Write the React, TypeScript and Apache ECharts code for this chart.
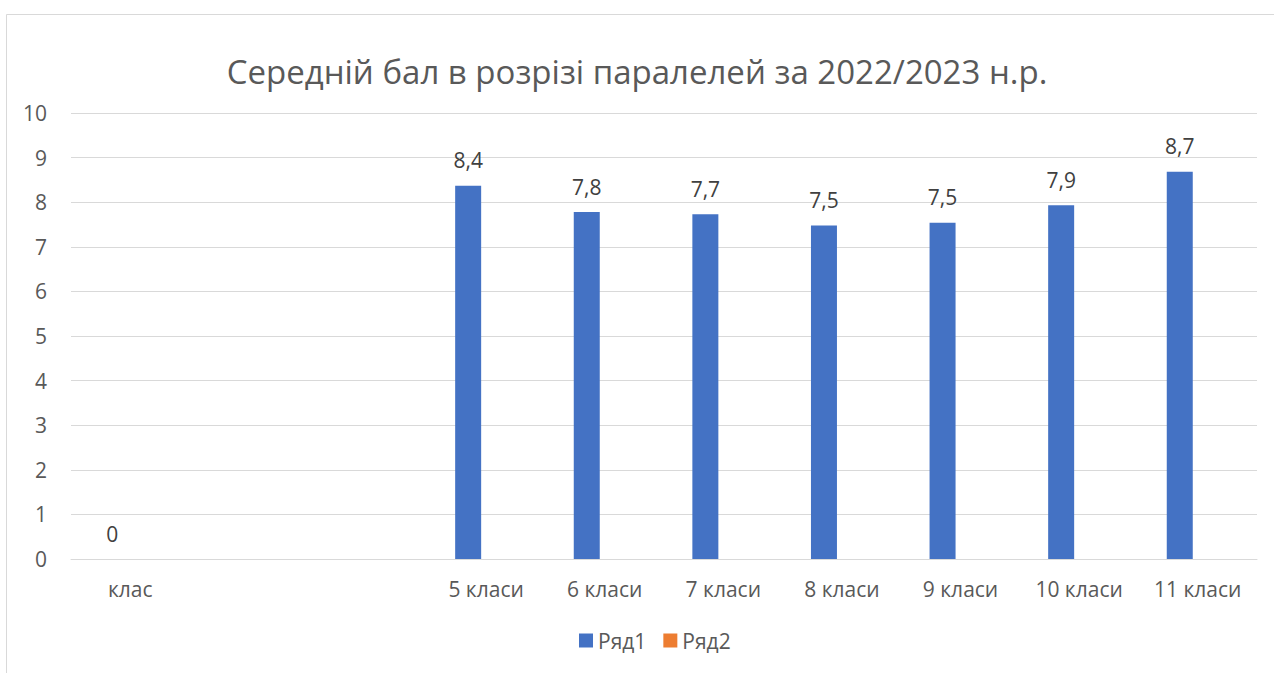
import React, { useEffect, useRef } from "react";
import * as echarts from "echarts";

const titleText = "Середній бал в розрізі паралелей за 2022/2023 н.р.";
const categories = ["клас", "", "", "5 класи", "6 класи", "7 класи", "8 класи", "9 класи", "10 класи", "11 класи"];
const series1Name = "Ряд1";
const series2Name = "Ряд2";
const series1Values: (number | null)[] = [0, null, null, 8.37, 7.78, 7.73, 7.48, 7.54, 7.93, 8.68];
const series2Values: (number | null)[] = [null, null, null, null, null, null, null, null, null, null];
const yTicks = { min: 0, max: 10, interval: 1 };

const FONT = "'Open Sans', 'Noto Sans', sans-serif";

function fmt(v: number): string {
  if (v === 0) return "0";
  return v.toFixed(1).replace(".", ",");
}

export default function App() {
  const ref = useRef<HTMLDivElement>(null);
  useEffect(() => {
    if (!ref.current) return;
    const chart = echarts.init(ref.current, null, { renderer: "svg" });
    chart.setOption({
      animation: false,
      backgroundColor: "#ffffff",
      title: {
        text: titleText,
        left: "center",
        top: 50,
        textStyle: { fontFamily: FONT, fontSize: 33, fontWeight: "normal", color: "#595959" },
      },
      graphic: [
        {
          type: "rect",
          shape: { x: 6.5, y: 14.5, width: 1300, height: 700 },
          style: { fill: "none", stroke: "#d9d9d9", lineWidth: 1 },
          silent: true,
        },
      ],
      legend: {
        bottom: 17,
        left: 574,
        itemWidth: 14,
        itemHeight: 14,
        itemGap: 17,
        icon: "rect",
        textStyle: { fontFamily: FONT, fontSize: 21, color: "#595959" },
        data: [series1Name, series2Name],
      },
      grid: { left: 71, right: 17, top: 113, bottom: 114, containLabel: false },
      xAxis: {
        type: "category",
        data: categories,
        axisLine: { show: true, lineStyle: { color: "#d9d9d9", width: 1 } },
        axisTick: { show: false },
        axisLabel: { fontFamily: FONT, fontSize: 21, color: "#595959", margin: 19, interval: 0 },
      },
      yAxis: {
        type: "value",
        min: yTicks.min,
        max: yTicks.max,
        interval: yTicks.interval,
        axisLine: { show: false },
        axisTick: { show: false },
        splitLine: { lineStyle: { color: "#d9d9d9", width: 1 } },
        axisLabel: { fontFamily: FONT, fontSize: 21, color: "#595959", margin: 24 },
      },
      series: [
        {
          name: series1Name,
          type: "bar",
          data: series1Values,
          barWidth: 26,
          barGap: "38%",
          itemStyle: { color: "#4472C4" },
          label: {
            show: true,
            position: "top",
            distance: 15,
            fontFamily: FONT,
            fontSize: 21,
            color: "#404040",
            formatter: (p: any) => fmt(p.value),
          },
        },
        {
          name: series2Name,
          type: "bar",
          data: series2Values,
          barWidth: 26,
          itemStyle: { color: "#ED7D31" },
        },
      ],
    });
    return () => chart.dispose();
  }, []);
  return (
    <div
      ref={ref}
      style={{ position: "fixed", left: 0, top: 0, width: 1274, height: 673 }}
    />
  );
}
